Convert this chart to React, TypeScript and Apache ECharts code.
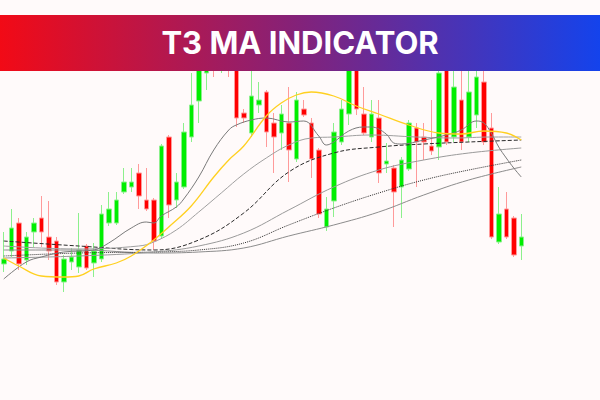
import React, { useEffect, useRef } from "react";
import * as echarts from "echarts";

// Each candle: [open, close, low, high]
const ohlc: number[][] = [
  [136, 141, 128, 168], [149, 172, 143, 191], [177, 136, 130, 182], [140, 163, 135, 168],
  [168, 177, 153, 182], [182, 168, 153, 204], [163, 149, 140, 199], [159, 118, 115, 163],
  [118, 141, 108, 145], [138, 143, 130, 152], [133, 150, 127, 187], [154, 132, 130, 156],
  [137, 149, 123, 157], [141, 186, 138, 195], [177, 191, 174, 208], [177, 200, 175, 208],
  [208, 218, 206, 232], [213, 218, 208, 232], [227, 204, 191, 236], [200, 191, 189, 232],
  [200, 159, 150, 202], [164, 254, 162, 256], [263, 195, 182, 265], [200, 218, 192, 227],
  [213, 268, 211, 277], [263, 295, 258, 327], [299, 340, 277, 355], [327, 338, 310, 350],
  [360, 338, 323, 370], [340, 365, 327, 375], [355, 335, 323, 365], [345, 282, 273, 355],
  [287, 282, 277, 291], [267, 304, 263, 335], [295, 300, 287, 318], [308, 268, 253, 310],
  [277, 263, 227, 287], [267, 286, 250, 295], [277, 250, 218, 313], [241, 300, 238, 308],
  [291, 285, 283, 300], [277, 241, 222, 282], [250, 186, 182, 252], [173, 191, 169, 203],
  [199, 268, 183, 277], [258, 291, 255, 300], [286, 345, 275, 355], [350, 291, 285, 360],
  [286, 267, 265, 313], [263, 286, 258, 300], [282, 227, 217, 300], [236, 239, 227, 257],
  [232, 208, 173, 235], [213, 240, 182, 243], [231, 277, 229, 280], [272, 258, 213, 277],
  [263, 258, 240, 277], [254, 249, 245, 300], [253, 327, 240, 350], [340, 258, 255, 355],
  [263, 313, 258, 345], [300, 258, 250, 340], [263, 308, 258, 340], [285, 323, 272, 340],
  [318, 258, 255, 345], [272, 163, 161, 287], [158, 186, 156, 213], [191, 163, 161, 208],
  [182, 145, 143, 184], [154, 163, 140, 186],
];

const categories = ohlc.map((_, i) => `Bar ${i + 1}`);

// Moving-average lines: [bar index, value]
const t3Line = [
  [0, 142], [2, 134], [5, 124], [8, 123], [10, 124], [12, 131], [15, 137], [17, 144],
  [20, 160], [22, 173], [25, 194], [28, 223], [30, 240], [32, 254], [35, 284], [37, 297],
  [39, 305], [41, 308], [44, 304], [47, 294], [50, 286], [54, 275], [58, 267], [61, 266],
  [64, 269], [67, 267], [69, 260],
];
const maFast = [
  [0, 121], [3, 138], [5, 143], [8, 148], [12, 150], [14, 157], [17, 172], [19, 178],
  [20, 177], [21, 184], [23, 193], [24, 201], [26, 223], [28, 250], [30, 270], [31, 275],
  [33, 280], [35, 282], [38, 278], [40, 279], [42, 264], [43, 255], [44, 258], [46, 269],
  [48, 273], [49, 273], [51, 266], [52, 257], [53, 256], [56, 260], [59, 265], [61, 270],
  [63, 279], [64, 277], [65, 267], [66, 253], [67, 242], [68, 232], [69, 223],
];
const maB = [
  [0, 154], [10, 151], [18, 154], [20, 158], [23, 170], [26, 188], [29, 207], [32, 226],
  [35, 242], [38, 255], [41, 262], [44, 263], [49, 265], [55, 263], [60, 262], [65, 263], [69, 263],
];
const maC = [
  [0, 159], [10, 154], [20, 150], [26, 160], [32, 187], [38, 228], [44, 247], [50, 253],
  [56, 256], [62, 258], [69, 260],
];
const maD = [
  [0, 142], [10, 144], [20, 148], [26, 154], [32, 167], [38, 190], [44, 213], [50, 230],
  [56, 240], [62, 247], [69, 252],
];
const maE = [
  [0, 144], [10, 147], [20, 148], [26, 150], [32, 157], [38, 175], [44, 192], [50, 207],
  [56, 220], [62, 230], [69, 240],
];
const maF = [
  [0, 150], [10, 150], [20, 147], [26, 148], [32, 152], [38, 164], [44, 175], [50, 188],
  [56, 205], [62, 220], [69, 233],
];

const title = "T3 MA INDICATOR";

function lineSeries(name: string, data: number[][], color: string, type: string, width = 1) {
  return {
    name,
    type: "line",
    data,
    smooth: 0.4,
    symbol: "none",
    silent: true,
    lineStyle: { color, width, type },
    z: 3,
  };
}

export default function App() {
  const ref = useRef<HTMLDivElement>(null);
  useEffect(() => {
    if (!ref.current) return;
    const chart = echarts.init(ref.current, null, { renderer: "svg" });
    chart.setOption({
      animation: false,
      backgroundColor: "#fffafa",
      grid: { left: 0, right: 75, top: 0, bottom: 0 },
      xAxis: { type: "category", data: categories, show: false, boundaryGap: true },
      yAxis: { type: "value", min: 0, max: 400, show: false, splitLine: { show: false } },
      series: [
        {
          name: "Price",
          type: "candlestick",
          data: ohlc,
          barWidth: 5,
          itemStyle: {
            color: "#00ee00",
            color0: "#ff0000",
            borderColor: "#8cf08c",
            borderColor0: "#ff9a9a",
            borderWidth: 1,
          },
          z: 2,
        },
        lineSeries("MA F", maF, "#8c8c8c", "solid"),
        lineSeries("MA E", maE, "#333333", "dotted"),
        lineSeries("MA D", maD, "#9a9a9a", "solid"),
        lineSeries("MA C", maC, "#2a2a2a", "dashed"),
        lineSeries("MA B", maB, "#a0a0a0", "solid"),
        lineSeries("MA Fast", maFast, "#7a7a7a", "solid"),
        lineSeries("T3", t3Line, "#ffd020", "solid", 1.3),
      ],
      graphic: [
        {
          type: "rect",
          z: 100,
          shape: { x: 0, y: 15, width: 600, height: 56 },
          style: {
            fill: new echarts.graphic.LinearGradient(0, 0, 1, 0, [
              { offset: 0, color: "#f20a16" },
              { offset: 0.5, color: "#83227a" },
              { offset: 1, color: "#1443ec" },
            ]),
          },
        },
        {
          type: "text",
          z: 101,
          x: 300,
          y: 42,
          style: {
            text: title,
            fill: "#ffffff",
            font: "bold 31px Inter, 'Open Sans', sans-serif",
            textAlign: "center",
            textVerticalAlign: "middle",
          },
        },
      ],
    });
    return () => chart.dispose();
  }, []);
  return (
    <div
      ref={ref}
      style={{ position: "absolute", left: 0, top: 0, width: 600, height: 400 }}
    />
  );
}
